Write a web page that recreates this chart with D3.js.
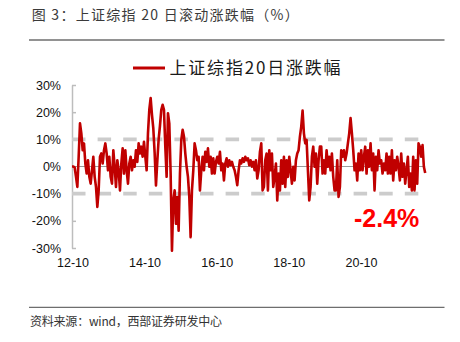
<!DOCTYPE html>
<html>
<head>
<meta charset="utf-8">
<script src="https://cdn.jsdelivr.net/npm/d3@7"></script>
<style>
  html, body { margin: 0; padding: 0; background: #fff; }
  svg { display: block; }
</style>
</head>
<body>
<svg id="chart" width="460" height="342"></svg>
<script>
// ---- Data -------------------------------------------------------------
const titleText = "图 3：上证综指 20 日滚动涨跌幅（%）";
const sourceText = "资料来源：wind，西部证券研发中心";
const seriesName = "上证综指20日涨跌幅";

// Observation window (samples are evenly spaced between these dates)
const firstDate = "2012-09-26";
const lastDate = "2022-07-13";

// Rolling 20-day change of the SSE Composite, in percent
const values = [
  0, 0, -0.4, -3.8, -7.5, 3.6, 15.9, 12.2, 6.0, 8.5,
  1.1, -2.6, 2.3, -3.8, -6.3, -1.4, 3.6, -3.8, -7.5, -14.9,
  -8.8, 3.6, 4.8, 1.1, 6.0, 8.5, 4.8, -1.4, 3.6, -3.8,
  -6.3, 6.0, -0.1, -7.5, 2.3, -1.4, -8.8, 1.1, 6.7, -2.6,
  6.0, -1.4, -6.3, 1.1, 3.6, -1.4, 2.3, -0.1, 6.0, 1.7,
  8.5, 4.8, 7.3, 3.6, 9.1, 3.6, -1.4, 12.2, 20.9, 25.2,
  19, 14, 5, -7, 2, 10, 15,
  20.9, 22.7, 20.9, 7.3, -3.8, 19.6, 15.9, -2.6, -31, -12.5,
  -8.8, -21.1, -11.2, -23.6, -2.6, 9.8, 13.5, 11.0, 4.8, -0.1,
  -3.8, -11.2, -26, -8.8, -1.4, 8.5, 6.0, 2.3, 3.6, -8.8,
  -1.4, 3.6, -1.4, 5.4, 1.7, 6.7, -0.1, 3.6, -2.6, 3.0,
  -2.6, 1.7, 3.6, 1.1, 5.4, -1.4, 1.1, -5.1, 1.1, 3.0,
  -0.1, 2.3, 0.5, 1.7, -0.1, -1.4, -3.8, -6.9, -1.4, 2.3,
  1.1, 3.0, 1.7, 3.6, 2.3, 3.0,
  0.5, 2.3, -0.1, 1.7, -1.4, 2.3, -4.4, -1.4, 5.4, 8.5,
  -8.8, -7.5, 2.3, 4.8, -8.8, 6.0, -1.4, 4.8, -7.5, -3.8,
  1.1, -12.5, -2.6, -8.8, 2.3, -6.3, 3.6, -7.5, 2.3, -3.8,
  3.6, -1.4, -6.3, -0.1, -5.1, 2.3, 4.8, 6.0, 11.0, 14.7,
  20.6, 12.2, 8.5, 9.8, -1.4, -12.5, -7.5, 3.6, 7.3, -0.1,
  4.8, -6.3, 2.3, 7.3, 7.3, -2.6, 2.3, -2.6, 6.0, -0.1,
  3.6, -1.4, 4.8, -3.8, -8.8,
  -8.8, 2.3, -11.2, -7.5, 6.0, 3.6, 6.0, 2.3, 4.8, 8.5,
  12.2, 17.8, 12.2, 6.0, -1.4, 1.1, -5.1, 4.8, -1.4, 6.0,
  -1.4, 3.6, 7.3, -2.6, 6.0, -0.1, 8.5, -1.4, 4.8, -8.8,
  3.6, -1.4, 6.0, 1.1, 2.3, -2.6, 1.1, -1.4, 4.8, -2.6,
  3.6, -2.6, 6.0, -5.1, 2.3, -1.4, 3.6, -0.1, -5.1, 4.8,
  -3.8, 1.1, -6.3, -1.4, 3.6, -7.5, -2.6, -8.8, 3.6, -8.8,
  2.3, -6.3, 8.5, 7.3, 3.6, 7.9, -0.1, -2.4
];

const yTicks = [-30, -20, -10, 0, 10, 20, 30];
const xTickDates = ["2012-10-01", "2014-10-01", "2016-10-01", "2018-10-01", "2020-10-01"];
const xDomain = ["2012-10-01", "2022-10-01"];
const bandLevels = [10, -10];

// ---- Setup ------------------------------------------------------------
const parse = d3.utcParse("%Y-%m-%d");
const t0 = parse(firstDate), t1 = parse(lastDate);
const series = values.map((v, i) => ({
  date: new Date(+t0 + (t1 - t0) * i / (values.length - 1)),
  value: v
}));

// Plain hyphen for negative numbers
const locale = d3.formatLocale({ decimal: ".", thousands: ",", grouping: [3], currency: ["", ""], minus: "-" });
const fmtPct = d => locale.format(".1f")(d) + "%";

const svg = d3.select("#chart");
const latinFont = "'Liberation Sans', Arial, sans-serif";
const cjkFont = "'Noto Sans CJK SC', 'Liberation Sans', sans-serif";

const x = d3.scaleUtc().domain(xDomain.map(parse)).range([72.5, 433.1]);
const y = d3.scaleLinear().domain([-30, 30]).range([248, 85]);

// ---- Header / footer --------------------------------------------------
svg.append("text")
  .attr("x", 31.7).attr("y", 19.5)
  .attr("font-family", cjkFont).attr("font-size", 14)
  .attr("fill", "#3a3a3a")
  .attr("textLength", 267).attr("lengthAdjust", "spacing")
  .text(titleText);

svg.append("line")
  .attr("x1", 29).attr("x2", 444.5).attr("y1", 40).attr("y2", 40)
  .attr("stroke", "#6e6e6e").attr("stroke-width", 1.3);

svg.append("line")
  .attr("x1", 29).attr("x2", 444.5).attr("y1", 307.3).attr("y2", 307.3)
  .attr("stroke", "#6e6e6e").attr("stroke-width", 1.3);

svg.append("text")
  .attr("x", 30).attr("y", 326)
  .attr("font-family", cjkFont).attr("font-size", 12)
  .attr("fill", "#333")
  .attr("textLength", 192).attr("lengthAdjust", "spacing")
  .text(sourceText);

// ---- Legend -----------------------------------------------------------
svg.append("line")
  .attr("x1", 133).attr("x2", 165).attr("y1", 68).attr("y2", 68)
  .attr("stroke", "#c00000").attr("stroke-width", 3);

svg.append("text")
  .attr("x", 169.5).attr("y", 74)
  .attr("font-family", cjkFont).attr("font-size", 17)
  .attr("fill", "#1a1a1a")
  .attr("textLength", 171).attr("lengthAdjust", "spacing")
  .text(seriesName);

// ---- Axes -------------------------------------------------------------
const yAxis = svg.append("g")
  .attr("transform", "translate(72,0)")
  .call(d3.axisLeft(y).tickValues(yTicks).tickSize(-4).tickSizeOuter(0)
    .tickPadding(11).tickFormat(d => d + "%"));
yAxis.select(".domain").attr("stroke", "#bdbdbd").attr("stroke-width", 1.5);
yAxis.selectAll(".tick line").attr("stroke", "#bdbdbd").attr("stroke-width", 1.5);
yAxis.selectAll(".tick text")
  .attr("font-family", latinFont).attr("font-size", 12.5).attr("fill", "#111");

const xAxis = svg.append("g")
  .attr("transform", `translate(0,${y(-30)})`)
  .call(d3.axisBottom(x).tickValues(xTickDates.map(parse)).tickSize(0)
    .tickPadding(10.6).tickFormat(d3.utcFormat("%y-%m")));
xAxis.select(".domain").remove();
xAxis.selectAll(".tick text")
  .attr("font-family", latinFont).attr("font-size", 12.5).attr("fill", "#111");

// ---- Reference lines --------------------------------------------------
const xStart = x(series[0].date), xEnd = x(series[series.length - 1].date);

svg.append("line")
  .attr("x1", xStart).attr("x2", xEnd)
  .attr("y1", y(0)).attr("y2", y(0))
  .attr("stroke", "#9a9a9a").attr("stroke-width", 1);

svg.selectAll("line.band")
  .data(bandLevels)
  .join("line")
  .attr("class", "band")
  .attr("x1", xStart).attr("x2", xEnd)
  .attr("y1", d => y(d)).attr("y2", d => y(d))
  .attr("stroke", "#cccccc").attr("stroke-width", 3.6)
  .attr("stroke-dasharray", "13.5,12.1");

// ---- Series -----------------------------------------------------------
svg.append("path")
  .datum(series)
  .attr("fill", "none")
  .attr("stroke", "#c00000")
  .attr("stroke-width", 2.6)
  .attr("stroke-linejoin", "round")
  .attr("d", d3.line().x(d => x(d.date)).y(d => y(d.value)));

// Latest value callout
const latest = series[series.length - 1].value;
svg.append("text")
  .attr("x", 354).attr("y", 226.5)
  .attr("font-family", latinFont).attr("font-size", 25).attr("font-weight", "bold")
  .attr("fill", "#ff0000")
  .text(fmtPct(latest));
</script>
</body>
</html>
